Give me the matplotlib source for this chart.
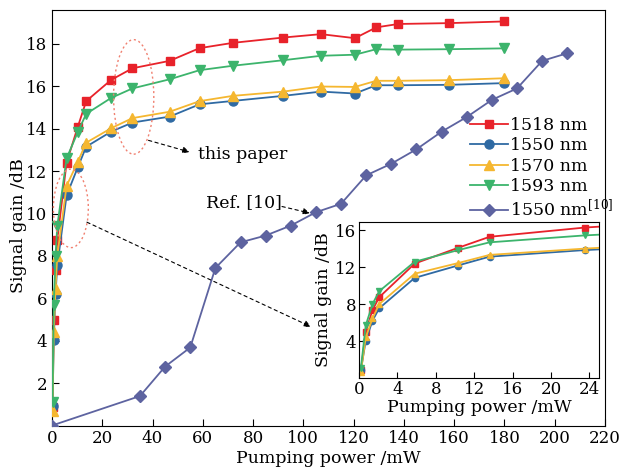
import matplotlib
matplotlib.use("Agg")
import matplotlib.pyplot as plt
from matplotlib.patches import Ellipse

# Pumping power (mW) and measured signal gain (dB) for each signal wavelength
power = [0.2, 0.7, 1.4, 2.1, 5.8, 10.3, 13.6, 23.5, 32.0, 46.8, 58.7, 72.0,
         92.0, 107.0, 120.5, 129.0, 137.8, 158.0, 180.0]
gain_1518 = [0.85, 5.0, 7.35, 8.75, 12.4, 14.1, 15.3, 16.3, 16.85, 17.2, 17.8,
             18.05, 18.3, 18.46, 18.27, 18.78, 18.94, 18.98, 19.06]
gain_1550 = [0.9, 4.05, 6.2, 7.55, 10.85, 12.19, 13.15, 13.86, 14.29, 14.57,
             15.15, 15.31, 15.55, 15.75, 15.66, 16.05, 16.05, 16.07, 16.15]
gain_1570 = [0.7, 4.4, 6.45, 8.0, 11.3, 12.45, 13.34, 14.02, 14.5, 14.8, 15.3,
             15.55, 15.75, 15.99, 15.97, 16.26, 16.26, 16.29, 16.38]
gain_1593 = [1.1, 5.7, 8.0, 9.4, 12.6, 13.85, 14.7, 15.45, 15.9, 16.33, 16.76,
             16.97, 17.23, 17.44, 17.49, 17.75, 17.73, 17.75, 17.79]

# Reference [10] at 1550 nm
ref_power = [0, 35, 45, 55, 65, 75, 85, 95, 105, 115, 125, 135, 145, 155,
             165, 175, 185, 195, 205]
ref_gain = [0.0, 1.39, 2.78, 3.68, 7.43, 8.64, 8.96, 9.43, 10.06, 10.46, 11.8,
            12.35, 13.03, 13.86, 14.55, 15.36, 15.9, 17.2, 17.56]

labels = ["1518 nm", "1550 nm", "1570 nm", "1593 nm", "1550 nm$^{[10]}$"]
main_xticks = list(range(0, 221, 20))
main_yticks = list(range(2, 19, 2))
inset_xticks = list(range(0, 25, 4))
inset_yticks = [4, 8, 12, 16]

plt.rcParams["font.family"] = ["DejaVu Serif"]
plt.rcParams["mathtext.fontset"] = "dejavuserif"
FS = 12.5
TFS = 12

colors = ["#e8222a", "#2f6aa3", "#f5b730", "#3cb46c", "#5d63a0"]
markers = ["s", "o", "^", "v", "D"]
msizes = [6, 6.5, 7.5, 7.5, 6]
series = [gain_1518, gain_1550, gain_1570, gain_1593]

fig = plt.figure(figsize=(6.22, 4.73), dpi=100)
ax = fig.add_axes([0.0836, 0.1004, 0.8891, 0.8785])

handles = []
for g, c, m, ms, lab in zip(series, colors, markers, msizes, labels):
    h, = ax.plot(power, g, color=c, marker=m, markersize=ms, lw=1.3,
                 label=lab, zorder=3)
    handles.append(h)
h, = ax.plot(ref_power, ref_gain, color=colors[4], marker="D", markersize=6,
             lw=1.3, label=labels[4], zorder=3)
handles.append(h)

ax.set_xlim(0, 220)
ax.set_ylim(0, 19.6)
ax.set_xticks(main_xticks)
ax.set_yticks(main_yticks)
ax.tick_params(direction="in", length=5, labelsize=TFS, top=False, right=False)
ax.set_xlabel("Pumping power /mW", fontsize=FS, labelpad=2)
ax.set_ylabel("Signal gain /dB", fontsize=FS)
ax.yaxis.set_label_coords(-0.046, 0.48)

# Dotted ellipses marking the measured curves
ax.add_patch(Ellipse((32.5, 15.5), 16, 5.4, fill=False, ls=(0, (1.5, 2)),
                     ec="#f08070", lw=1, zorder=4))
ax.add_patch(Ellipse((7.5, 10.24), 13.9, 3.7, fill=False, ls=(0, (1.5, 2)),
                     ec="#f08070", lw=1, zorder=4))

arrow = dict(arrowstyle="-|>", ls=(0, (3, 3)), color="black", lw=0.8,
             mutation_scale=10, shrinkA=0, shrinkB=0)
ax.annotate("", xy=(54.7, 12.9), xytext=(38.4, 13.45), arrowprops=arrow)
ax.text(58.2, 12.8, "this paper", fontsize=FS, va="center", ha="left")
ax.annotate("", xy=(103, 4.66), xytext=(13.9, 9.59), arrowprops=arrow)
ax.text(61.4, 10.52, "Ref. [10]", fontsize=FS, va="center", ha="left")
ax.annotate("", xy=(102.6, 10.02), xytext=(91.5, 10.33), arrowprops=arrow)

fig.legend(handles=handles, loc="upper left",
           bbox_to_anchor=(0.755, 0.7526), frameon=False, fontsize=FS,
           handlelength=2.2, handletextpad=0.1, labelspacing=0.2,
           borderpad=0, borderaxespad=0)

# Inset: low pumping power region
ins = fig.add_axes([0.5772, 0.2008, 0.3859, 0.3298])
for g, c, m in zip(series, colors, markers):
    ins.plot(power, g, color=c, marker=m, markersize=4.5, lw=1.3)
ins.set_xlim(0, 25)
ins.set_ylim(0, 16.9)
ins.set_xticks(inset_xticks)
ins.set_yticks(inset_yticks)
ins.tick_params(direction="in", length=4, labelsize=TFS, pad=2)
ins.set_xlabel("Pumping power /mW", fontsize=FS, labelpad=1)
ins.set_ylabel("Signal gain /dB", fontsize=FS, labelpad=2)

fig.savefig("out.png", dpi=100)
